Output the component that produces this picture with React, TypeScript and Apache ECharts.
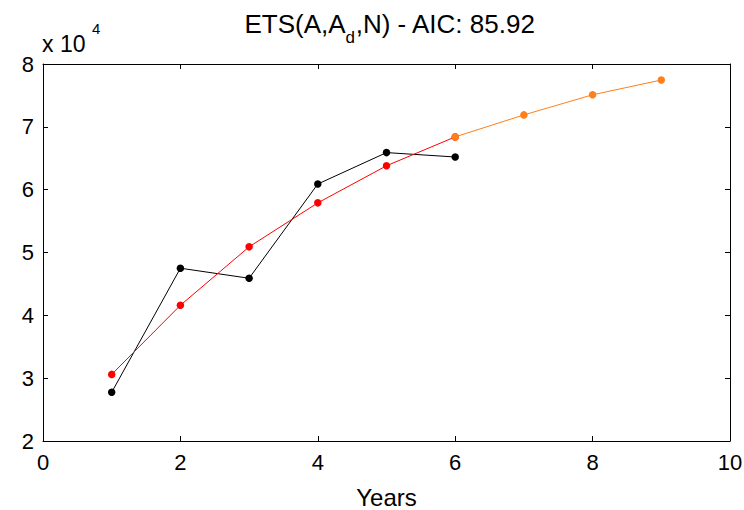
import React, { useEffect, useRef } from "react";
import * as echarts from "echarts";

const years = [1, 2, 3, 4, 5, 6];
const actual = [27750, 47500, 45900, 60900, 65900, 65200];
const fitted = [30600, 41600, 50900, 57900, 63800, 68400];
const forecastYears = [6, 7, 8, 9];
const forecast = [68400, 71900, 75100, 77450];
const xTicks = { min: 0, max: 10, interval: 2 };
const yTicks = { min: 20000, max: 80000, interval: 10000 };

const FONT = "Liberation Sans, Arial, sans-serif";

export default function App() {
  const ref = useRef<HTMLDivElement>(null);
  useEffect(() => {
    if (!ref.current) return;
    const chart = echarts.init(ref.current, null, { renderer: "svg" });
    const tickStyle = { show: true, inside: true, length: 5, lineStyle: { color: "#000", width: 1 } };
    const baseX = {
      type: "value" as const,
      min: xTicks.min,
      max: xTicks.max,
      interval: xTicks.interval,
      splitLine: { show: false },
      axisLine: { show: true, onZero: false, lineStyle: { color: "#000", width: 1 } },
      axisTick: tickStyle,
    };
    const baseY = {
      type: "value" as const,
      min: yTicks.min,
      max: yTicks.max,
      interval: yTicks.interval,
      splitLine: { show: false },
      axisLine: { show: true, onZero: false, lineStyle: { color: "#000", width: 1 } },
      axisTick: tickStyle,
    };
    chart.setOption({
      animation: false,
      backgroundColor: "#fff",
      textStyle: { fontFamily: FONT },
      grid: { left: 43, right: 14, top: 64, bottom: 69, containLabel: false, outerBoundsMode: "none" },
      title: {
        text: "ETS(A,A{sub|d},N) - AIC: 85.92",
        left: 385,
        top: -3,
        textAlign: "center",
        textStyle: {
          fontFamily: FONT,
          fontSize: 26,
          fontWeight: "normal",
          color: "#000",
          rich: {
            sub: { fontFamily: FONT, fontSize: 17, color: "#000", padding: [27, 0, 0, 0] },
          },
        },
      },
      graphic: [
        {
          type: "text",
          left: 42,
          top: 32,
          style: { text: "x 10", font: `23px ${FONT}`, fill: "#000" },
        },
        {
          type: "text",
          left: 92,
          top: 21,
          style: { text: "4", font: `15px ${FONT}`, fill: "#000" },
        },
      ],
      xAxis: [
        {
          ...baseX,
          position: "bottom",
          name: "Years",
          nameLocation: "middle",
          nameGap: 44,
          nameTextStyle: { fontFamily: FONT, fontSize: 24, color: "#000" },
          axisLabel: { show: true, color: "#000", fontSize: 22, fontFamily: FONT, margin: 10 },
        },
        { ...baseX, position: "top", axisLabel: { show: false } },
      ],
      yAxis: [
        {
          ...baseY,
          position: "left",
          axisLabel: {
            show: true,
            color: "#000",
            fontSize: 22,
            fontFamily: FONT,
            margin: 9,
            formatter: (v: number) => String(v / 10000),
          },
        },
        { ...baseY, position: "right", axisLabel: { show: false } },
      ],
      series: [
        {
          type: "line",
          data: years.map((y, i) => [y, actual[i]]),
          symbol: "circle",
          symbolSize: 7.5,
          lineStyle: { color: "#000", width: 1 },
          itemStyle: { color: "#000" },
          z: 2,
        },
        {
          type: "line",
          data: years.map((y, i) => [y, fitted[i]]),
          symbol: "circle",
          symbolSize: 7.5,
          lineStyle: { color: "#ff0000", width: 1 },
          itemStyle: { color: "#ff0000" },
          z: 3,
        },
        {
          type: "line",
          data: forecastYears.map((y, i) => [y, forecast[i]]),
          symbol: "circle",
          symbolSize: 7.5,
          lineStyle: { color: "#ff7f1a", width: 1 },
          itemStyle: { color: "#ff7f1a" },
          z: 4,
        },
      ],
    });
    return () => chart.dispose();
  }, []);
  return <div ref={ref} style={{ width: 744, height: 510, position: "absolute", left: 0, top: 0 }} />;
}
